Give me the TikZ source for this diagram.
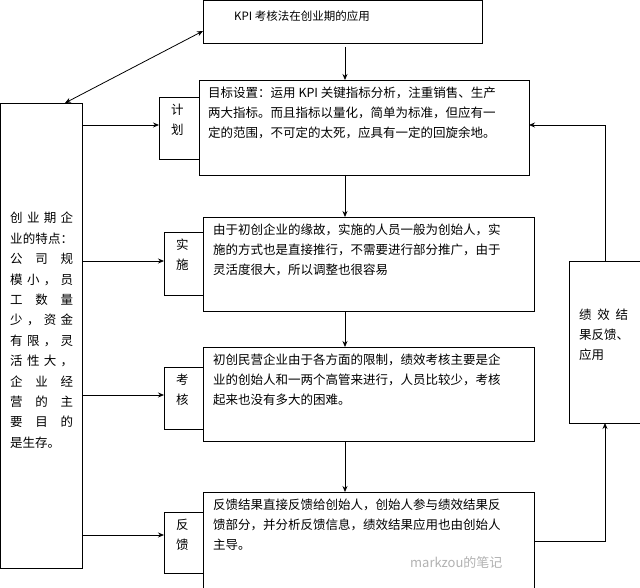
\documentclass[tikz,border=0pt]{standalone}
\usepackage{fontspec}
\newfontfamily\cjk{Noto Sans CJK SC}
\usetikzlibrary{arrows.meta}
\newcommand\hf{\hfill{}}
\begin{document}
\begin{tikzpicture}[x=1pt,y=-1pt,font=\cjk\fontsize{12.5}{20}\selectfont,
  box/.style={draw,thick,inner sep=0pt},
  txt/.style={anchor=north west,align=left,inner sep=0pt},
  arr/.style={-{Stealth[length=6pt,width=5pt]},thick}]
\useasboundingbox (0,0) rectangle (640,588);
\fill[white] (0,0) rectangle (640,588);
% top
\draw[box] (203,0) rectangle (482,43);
\coordinate (tl) at (203,31);
\node[anchor=west,inner sep=0pt,font=\cjk\fontsize{11.5}{14}\selectfont] (t) at (234,16) {KPI 考核法在创业期的应用};
% plan
\draw[box] (159,97) rectangle (199,159);
\node[txt,align=center] (l1) at (171,104) {计\\划};
\draw[box] (199,80) rectangle (529,175);
\node[txt] (b1) at (208,87) {目标设置：运用 KPI 关键指标分析，注重销售、生产\\两大指标。而且指标以量化，简单为标准，但应有一\\定的范围，不可定的太死，应具有一定的回旋余地。};
% impl
\draw[box] (164,232) rectangle (203,295);
\node[txt,align=center] (l2) at (176,239) {实\\施};
\draw[box] (203,217) rectangle (534,311);
\node[txt] (b2) at (213,224) {由于初创企业的缘故，实施的人员一般为创始人，实\\施的方式也是直接推行，不需要进行部分推广，由于\\灵活度很大，所以调整也很容易};
% eval
\draw[box] (164,367) rectangle (203,429);
\node[txt,align=center] (l3) at (176,374) {考\\核};
\draw[box] (203,347) rectangle (534,441);
\node[txt] (b3) at (213,354) {初创民营企业由于各方面的限制，绩效考核主要是企\\业的创始人和一两个高管来进行，人员比较少，考核\\起来也没有多大的困难。};
% feedback
\draw[box] (164,512) rectangle (203,573);
\node[txt,align=center] (l4) at (176,519) {反\\馈};
\draw[box] (203,492) rectangle (534,600);
\node[txt] (b4) at (213,499) {反馈结果直接反馈给创始人，创始人参与绩效结果反\\馈部分，并分析反馈信息，绩效结果应用也由创始人\\主导。};
% left
\draw[box] (0,103) rectangle (82,568);
\node[txt,font=\cjk\fontsize{12.5}{20.4}\selectfont] (left) at (10,212) {%
\hbox to 63pt{创\hf 业\hf 期\hf 企}\\
\hbox to 63pt{业\hf 的\hf 特\hf 点\hf ：}\\
\hbox to 63pt{公\hf 司\hf 规}\\
\hbox to 63pt{模\hf 小\hf ，\hf 员}\\
\hbox to 63pt{工\hf 数\hf 量}\\
\hbox to 63pt{少\hf ，\hf 资\hf 金}\\
\hbox to 63pt{有\hf 限\hf ，\hf 灵}\\
\hbox to 63pt{活\hf 性\hf 大\hf ，}\\
\hbox to 63pt{企\hf 业\hf 经}\\
\hbox to 63pt{营\hf 的\hf 主}\\
\hbox to 63pt{要\hf 目\hf 的}\\
\hbox to 63pt{是生存。\hf}};
% right
\draw[box] (569,261) rectangle (640,423);
\node[txt] (right) at (579,309) {\hbox to 49pt{绩\hf 效\hf 结}\\果反馈、\\应用};
% arrows
\draw[{Stealth[length=6pt,width=5pt]}-{Stealth[length=6pt,width=5pt]},thick] (65,103) -- (tl);
\draw[arr] (345,47) -- (345,80);
\draw[arr] (345,175) -- (345,217);
\draw[arr] (345,311) -- (345,347);
\draw[arr] (345,441) -- (345,492);
\draw[arr] (82,125) -- (159,125);
\draw[arr] (82,261) -- (164,261);
\draw[arr] (82,395) -- (164,395);
\draw[arr] (82,535) -- (164,535);
\draw[arr] (534,541) -- (605,541) -- (605,423);
\draw[arr] (605,261) -- (605,125) -- (529,125);
\node[anchor=west,inner sep=0pt,text=gray!60,font=\cjk\fontsize{13}{15}\selectfont] (wm) at (410,562) {markzou的笔记};
\end{tikzpicture}
\end{document}
